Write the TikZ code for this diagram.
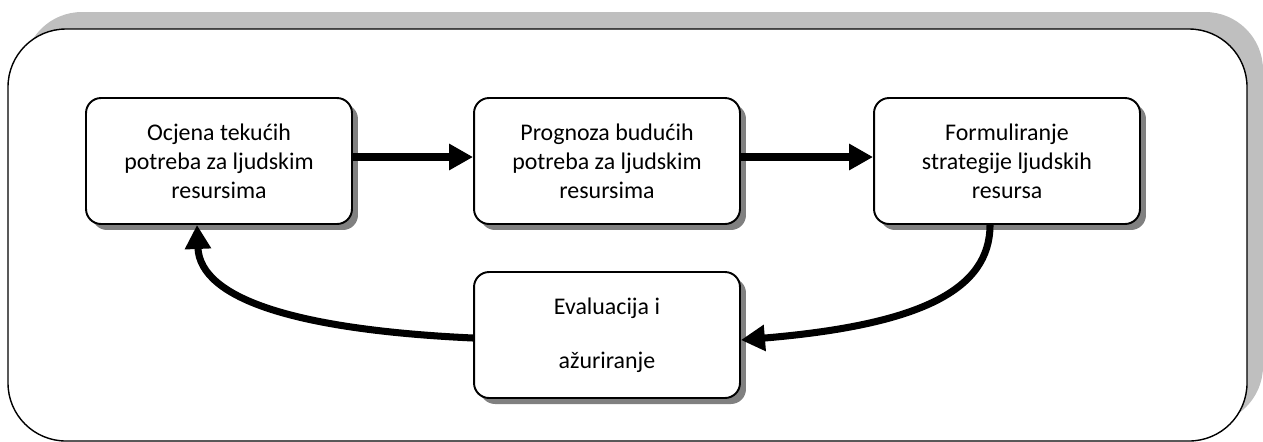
\documentclass[tikz,border=0pt]{standalone}
\usepackage{fontspec}
\setmainfont{Carlito}
\usetikzlibrary{arrows.meta, shadows, positioning}

\begin{document}
\begin{tikzpicture}[x=0.02cm, y=-0.02cm,
    korak/.style={draw, line width=1.1pt, rounded corners=0.3cm, fill=white,
      minimum width=5.32cm, minimum height=2.52cm, align=center,
      font=\fontsize{13.6}{16.5}\selectfont,
      drop shadow={shadow xshift=0.12cm, shadow yshift=-0.12cm, fill=black!50, opacity=1}},
    tok/.style={line width=4pt, -{Triangle[length=0.48cm, width=0.5cm]}}]
  %okvir
  \useasboundingbox (0,0) rectangle (1263,441);
  \fill[black!25, rounded corners=1.16cm] (24,12) rectangle (1263,424);
  \draw[fill=white, line width=0.8pt, rounded corners=1.16cm] (8,29) rectangle (1247,441);
  %koraci
  \node[korak] (ocjena) at (219,161) {Ocjena tekućih\\potreba za ljudskim\\resursima};
  \node[korak] (prognoza) at (607,161) {Prognoza budućih\\potreba za ljudskim\\resursima};
  \node[korak] (formul) at (1007,161) {Formuliranje\\strategije ljudskih\\resursa};
  \node[korak] (evalu) at (607,335) {Evaluacija i\\[14pt]ažuriranje};
  %strelice
  \draw[tok] ([yshift=0.08cm]ocjena.east) -- ([yshift=0.08cm]prognoza.west);
  \draw[tok] ([yshift=0.08cm]prognoza.east) -- ([yshift=0.08cm]formul.west);
  \draw[tok] ([xshift=-0.34cm]formul.south) .. controls (990,290) and (920,325) .. ([yshift=-0.1cm]evalu.east);
  \draw[tok] ([yshift=-0.06cm]evalu.west) .. controls (300,330) and (200,300) .. ([xshift=-0.44cm]ocjena.south);
\end{tikzpicture}
\end{document}
